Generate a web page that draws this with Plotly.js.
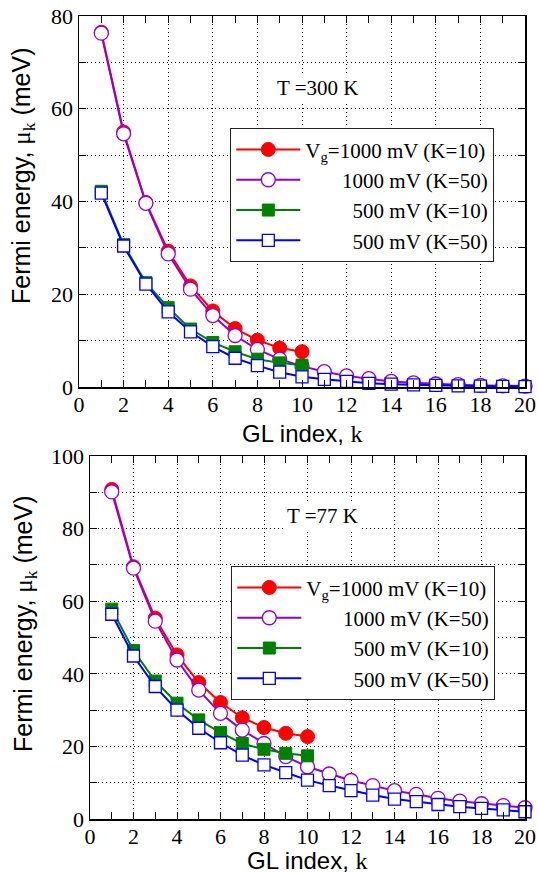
<!DOCTYPE html>
<html>
<head>
<meta charset="utf-8">
<script src="https://cdn.plot.ly/plotly-3.0.1.min.js"></script>
<style>html,body{margin:0;padding:0;background:#fff;}#chart{width:538px;height:873px;}</style>
</head>
<body>
<div id="chart"></div>
<script>
// GL index values
var k10 = [1,2,3,4,5,6,7,8,9,10];
var k20 = [1,2,3,4,5,6,7,8,9,10,11,12,13,14,15,16,17,18,19,20];

// T = 300 K
var t300_1000_K10 = [76.5, 55.0, 39.8, 29.3, 21.8, 16.4, 12.6, 10.1, 8.4, 7.6];
var t300_1000_K50 = [76.3, 54.6, 39.6, 28.7, 21.1, 15.4, 11.1, 8.1, 6.0, 4.5, 3.3, 2.4, 1.8, 1.2, 0.9, 0.65, 0.5, 0.35, 0.25, 0.2];
var t300_500_K10  = [42.2, 30.7, 22.5, 17.1, 12.5, 9.6, 7.6, 6.0, 5.2, 4.7];
var t300_500_K50  = [41.8, 30.4, 22.2, 16.2, 11.9, 8.7, 6.2, 4.6, 3.2, 2.2, 1.65, 1.2, 0.8, 0.6, 0.45, 0.35, 0.25, 0.2, 0.15, 0.1];

// T = 77 K
var t77_1000_K10 = [90.8, 69.5, 55.3, 45.2, 37.6, 32.1, 27.9, 25.2, 23.6, 22.7];
var t77_1000_K50 = [90.1, 69.1, 54.5, 43.8, 35.5, 29.1, 24.5, 20.8, 17.2, 14.4, 12.4, 10.6, 9.2, 7.8, 6.8, 5.7, 4.9, 4.2, 3.7, 3.1];
var t77_500_K10  = [57.8, 46.4, 38.0, 31.9, 27.3, 23.8, 20.8, 19.2, 18.1, 17.4];
var t77_500_K50  = [56.4, 44.9, 36.5, 30.0, 25.0, 21.0, 17.6, 14.9, 12.8, 10.7, 9.2, 7.8, 6.6, 5.5, 4.8, 4.0, 3.4, 2.9, 2.5, 2.0];

var seriesNames = [
  'V<sub>g</sub>=1000 mV (K=10)',
  '\u00a0\u00a0\u00a0\u00a0\u00a0\u00a0\u00a01000 mV (K=50)',
  '\u00a0\u00a0\u00a0\u00a0\u00a0\u00a0\u00a0\u00a0\u00a0500 mV (K=10)',
  '\u00a0\u00a0\u00a0\u00a0\u00a0\u00a0\u00a0\u00a0\u00a0500 mV (K=50)'
];
var panelNotes = ['T =300 K', 'T =77 K'];
var xTitle = 'GL index, <span style="font-family:Liberation Serif">k</span>';
var yTitle = 'Fermi energy, <span style="font-family:Liberation Serif">\u03bc<sub>k</sub></span> (meV)';

var styles = [
  {line:{color:'#ff0000', width:2}, marker:{symbol:'circle', size:14, color:'#ff0000', line:{color:'#ff0000', width:1}}},
  {line:{color:'#9400d3', width:2}, marker:{symbol:'circle', size:14, color:'#ffffff', line:{color:'#9400d3', width:1.3}}},
  {line:{color:'#008000', width:2}, marker:{symbol:'square', size:12, color:'#008000', line:{color:'#008000', width:1}}},
  {line:{color:'#0000ff', width:2}, marker:{symbol:'square', size:12, color:'#ffffff', line:{color:'#0000ff', width:1.3}}}
];

function mk(x, y, i, xa, ya, lg) {
  return {x:x, y:y, type:'scatter', mode:'lines+markers', name:seriesNames[i],
    xaxis:xa, yaxis:ya, legend:lg, cliponaxis:false,
    line:styles[i].line, marker:styles[i].marker};
}

var data = [
  mk(k10, t300_1000_K10, 0, 'x', 'y', 'legend'),
  mk(k20, t300_1000_K50, 1, 'x', 'y', 'legend'),
  mk(k10, t300_500_K10, 2, 'x', 'y', 'legend'),
  mk(k20, t300_500_K50, 3, 'x', 'y', 'legend'),
  mk(k10, t77_1000_K10, 0, 'x2', 'y2', 'legend2'),
  mk(k20, t77_1000_K50, 1, 'x2', 'y2', 'legend2'),
  mk(k10, t77_500_K10, 2, 'x2', 'y2', 'legend2'),
  mk(k20, t77_500_K50, 3, 'x2', 'y2', 'legend2')
];

var serif = 'Liberation Serif, Times New Roman, serif';
var sans = 'Liberation Sans, Arial, sans-serif';
var W = 538, H = 873;
var GD = '1px,3px';

function xax(domain, anchor) {
  return {domain:domain, anchor:anchor, range:[0,20], dtick:2, tick0:0,
    ticks:'inside', ticklen:7, tickwidth:1, tickcolor:'#000',
    showline:true, mirror:'ticks', linecolor:'#000', linewidth:1.5,
    showgrid:true, gridcolor:'#000', gridwidth:1, griddash:GD,
    zeroline:false, ticklabelstandoff:-3,
    minor:{dtick:1, ticks:'inside', ticklen:7, tickcolor:'#000', showgrid:false},
    tickfont:{family:serif, size:22, color:'#000'},
    automargin:false, fixedrange:true};
}
function yax(domain, anchor, range) {
  return {domain:domain, anchor:anchor, range:range, dtick:20, tick0:0,
    ticks:'inside', ticklen:7, tickwidth:1, tickcolor:'#000',
    showline:true, mirror:'ticks', linecolor:'#000', linewidth:1.5,
    showgrid:true, gridcolor:'#000', gridwidth:1, griddash:GD,
    zeroline:false,
    minor:{dtick:10, ticks:'inside', ticklen:7, tickcolor:'#000', showgrid:true, gridcolor:'#000', gridwidth:1, griddash:GD},
    tickfont:{family:serif, size:22, color:'#000'},
    automargin:false, fixedrange:true};
}

function legendAt(xr, yt) {
  return {x:xr/W, xanchor:'right', y:1-yt/H, yanchor:'top',
    bgcolor:'#fff', bordercolor:'#222', borderwidth:1.3, itemwidth:64,
    font:{family:serif, size:21, color:'#000'}, tracegroupgap:0};
}

var layout = {
  width:W, height:H,
  margin:{l:0, r:0, t:0, b:0},
  paper_bgcolor:'#fff', plot_bgcolor:'#fff',
  showlegend:true,
  xaxis: xax([79/W, 525/W], 'y'),
  yaxis: yax([1-387/H, 1-16/H], 'x', [0,80]),
  xaxis2: xax([90/W, 525/W], 'y2'),
  yaxis2: yax([1-819/H, 1-456/H], 'x2', [0,100]),
  legend: legendAt(494, 128),
  legend2: legendAt(495, 566),
  annotations:[
    {xref:'x', yref:'y', x:10.7, y:64.5, text:panelNotes[0], showarrow:false,
     font:{family:serif, size:21, color:'#000'}, bgcolor:'#fff'},
    {xref:'x2', yref:'y2', x:10.7, y:83.5, text:panelNotes[1], showarrow:false,
     font:{family:serif, size:21, color:'#000'}, bgcolor:'#fff'},
    {xref:'paper', yref:'paper', x:(79+525)/2/W, y:1-433/H, xanchor:'center', yanchor:'middle',
     text:xTitle, showarrow:false, font:{family:sans, size:24, color:'#000'}},
    {xref:'paper', yref:'paper', x:(90+525)/2/W, y:1-860/H, xanchor:'center', yanchor:'middle',
     text:xTitle, showarrow:false, font:{family:sans, size:24, color:'#000'}},
    {xref:'paper', yref:'paper', x:23/W, y:1-176/H, xanchor:'center', yanchor:'middle', textangle:-90,
     text:yTitle, showarrow:false, font:{family:sans, size:25, color:'#000'}},
    {xref:'paper', yref:'paper', x:25/W, y:1-624/H, xanchor:'center', yanchor:'middle', textangle:-90,
     text:yTitle, showarrow:false, font:{family:sans, size:25, color:'#000'}}
  ]
};

Plotly.newPlot('chart', data, layout, {staticPlot:true, displayModeBar:false});
</script>
</body>
</html>
